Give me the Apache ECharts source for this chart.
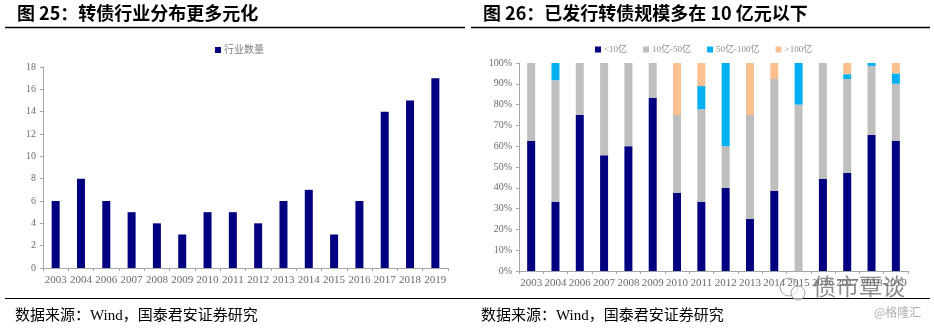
<!DOCTYPE html>
<html>
<head>
<meta charset="utf-8">
<style>
  html, body { margin: 0; padding: 0; background: #ffffff; }
  #chart { width: 934px; height: 328px; }
</style>
<script src="https://cdn.jsdelivr.net/npm/echarts@6/dist/echarts.min.js"></script>
</head>
<body>
<div id="chart"></div>
<script>
// Years shown on both charts (2005 has no issuance)
const years = ['2003','2004','2006','2007','2008','2009','2010','2011','2012','2013','2014','2015','2016','2017','2018','2019'];

// Left chart: number of industries covered by convertible bonds
const industryCount = [6, 8, 6, 5, 4, 3, 5, 5, 4, 6, 7, 3, 6, 14, 15, 17];
const industryTicks = [0, 2, 4, 6, 8, 10, 12, 14, 16, 18];

// Right chart: share of issues by size bucket (%)
const sizeNames = ['<10亿', '10亿-50亿', '50亿-100亿', '>100亿'];
const under10   = [62.5, 33.3, 75.0, 55.6, 60.0, 83.3, 37.5, 33.3, 40.0, 25.0, 38.5,  0.0, 44.4, 47.1, 65.4, 62.5];
const from10to50 = [37.5, 58.4, 25.0, 44.4, 40.0, 16.7, 37.5, 44.5, 20.0, 50.0, 53.8, 80.0, 55.6, 45.2, 33.2, 27.5];
const from50to100 = [ 0.0,  8.3,  0.0,  0.0,  0.0,  0.0,  0.0, 11.1, 40.0,  0.0,  0.0, 20.0,  0.0,  2.3,  1.4,  5.0];
const over100   = [ 0.0,  0.0,  0.0,  0.0,  0.0,  0.0, 25.0, 11.1,  0.0, 25.0,  7.7,  0.0,  0.0,  5.4,  0.0,  5.0];
const shareTicks = ['0%','10%','20%','30%','40%','50%','60%','70%','80%','90%','100%'];

const sizeColors = ['#000080', '#bfbfbf', '#00b0f0', '#fac090'];
const serif = '"Liberation Serif", "Noto Sans CJK SC", serif';
const axisGray = '#a6a6a6';
const labelGray = '#6b6b6b';

const chart = echarts.init(document.getElementById('chart'), null, { renderer: 'canvas' });

const sizeSeries = [under10, from10to50, from50to100, over100].map((vals, i) => ({
  name: sizeNames[i],
  type: 'bar',
  stack: 'size',
  xAxisIndex: 1,
  yAxisIndex: 1,
  barWidth: 8,
  itemStyle: { color: sizeColors[i] },
  data: vals
}));

function catAxis(gridIndex) {
  return {
    type: 'category',
    gridIndex: gridIndex,
    data: years,
    axisLine: { lineStyle: { color: axisGray, width: 1 } },
    axisTick: { show: true, length: 3, lineStyle: { color: axisGray } },
    axisLabel: { color: labelGray, fontFamily: serif, fontSize: 11, margin: 7, interval: 0 }
  };
}

chart.setOption({
  animation: false,
  backgroundColor: '#ffffff',
  legend: [
    {
      data: ['行业数量'],
      left: 210, top: 40,
      itemWidth: 6, itemHeight: 6, icon: 'rect',
      textStyle: { color: '#7f7f7f', fontSize: 10, fontFamily: serif, padding: [0, 0, 0, -2] }
    },
    {
      data: sizeNames,
      left: 590, top: 40,
      itemWidth: 6, itemHeight: 6, icon: 'rect', itemGap: 16,
      textStyle: { color: '#8c8c8c', fontSize: 9, fontFamily: serif, padding: [0, 0, 0, -2] }
    }
  ],
  grid: [
    { left: 43, right: 486, top: 67, bottom: 60 },
    { left: 519, right: 26, top: 63, bottom: 57 }
  ],
  xAxis: [catAxis(0), catAxis(1)],
  yAxis: [
    {
      type: 'value', gridIndex: 0, min: 0, max: industryTicks[industryTicks.length - 1], interval: 2,
      splitLine: { show: false },
      axisLine: { show: true, lineStyle: { color: axisGray } },
      axisTick: { show: true, length: 3, lineStyle: { color: axisGray } },
      axisLabel: { color: labelGray, fontFamily: serif, fontSize: 10, margin: 7 }
    },
    {
      type: 'value', gridIndex: 1, min: 0, max: 100, interval: 10,
      splitLine: { show: false },
      axisLine: { show: true, lineStyle: { color: axisGray } },
      axisTick: { show: true, length: 3, lineStyle: { color: axisGray } },
      axisLabel: {
        color: labelGray, fontFamily: serif, fontSize: 10, margin: 7,
        formatter: v => shareTicks[Math.round(v / 10)]
      }
    }
  ],
  series: [
    {
      name: '行业数量',
      type: 'bar',
      xAxisIndex: 0, yAxisIndex: 0,
      barWidth: 8,
      itemStyle: { color: '#000080' },
      data: industryCount
    }
  ].concat(sizeSeries),
  graphic: [
    // headings
    { type: 'text', left: 17, top: 4, style: { text: '图 25：转债行业分布更多元化', fontSize: 18, fontWeight: 'bold', fontFamily: '"Noto Sans CJK SC", sans-serif', fill: '#000' } },
    { type: 'text', left: 483, top: 4, style: { text: '图 26：已发行转债规模多在 10 亿元以下', fontSize: 18, fontWeight: 'bold', fontFamily: '"Noto Sans CJK SC", sans-serif', fill: '#000' } },
    // heading rules
    { type: 'line', shape: { x1: 5, y1: 27.5, x2: 465, y2: 27.5 }, style: { stroke: '#000', lineWidth: 1.5 } },
    { type: 'line', shape: { x1: 471, y1: 27.5, x2: 930, y2: 27.5 }, style: { stroke: '#000', lineWidth: 1.5 } },
    // footer rule
    { type: 'line', shape: { x1: 5, y1: 298.5, x2: 930, y2: 298.5 }, style: { stroke: '#000', lineWidth: 1.2 } },
    // sources
    { type: 'text', left: 15, top: 309, style: { text: '数据来源：Wind，国泰君安证券研究', fontSize: 15, fontFamily: serif, fill: '#000' } },
    { type: 'text', left: 481, top: 309, style: { text: '数据来源：Wind，国泰君安证券研究', fontSize: 15, fontFamily: serif, fill: '#000' } },
    // account marks
    { type: 'circle', shape: { cx: 789, cy: 287, r: 9 }, style: { fill: 'rgba(255,255,255,0.6)', stroke: '#a0a0a0', lineWidth: 1 } },
    { type: 'circle', shape: { cx: 798, cy: 293, r: 7 }, style: { fill: 'rgba(255,255,255,0.6)', stroke: '#a0a0a0', lineWidth: 1 } },
    { type: 'text', left: 813, top: 275, style: { text: '债市覃谈', fontSize: 23, fontFamily: '"Noto Sans CJK SC", sans-serif', fill: '#8c8c8c' } },
    { type: 'text', left: 874, top: 306, style: { text: '@格隆汇', fontSize: 12, fontFamily: '"Noto Sans CJK SC", sans-serif', fill: '#b0b0b0' } }
  ]
});
</script>
</body>
</html>
